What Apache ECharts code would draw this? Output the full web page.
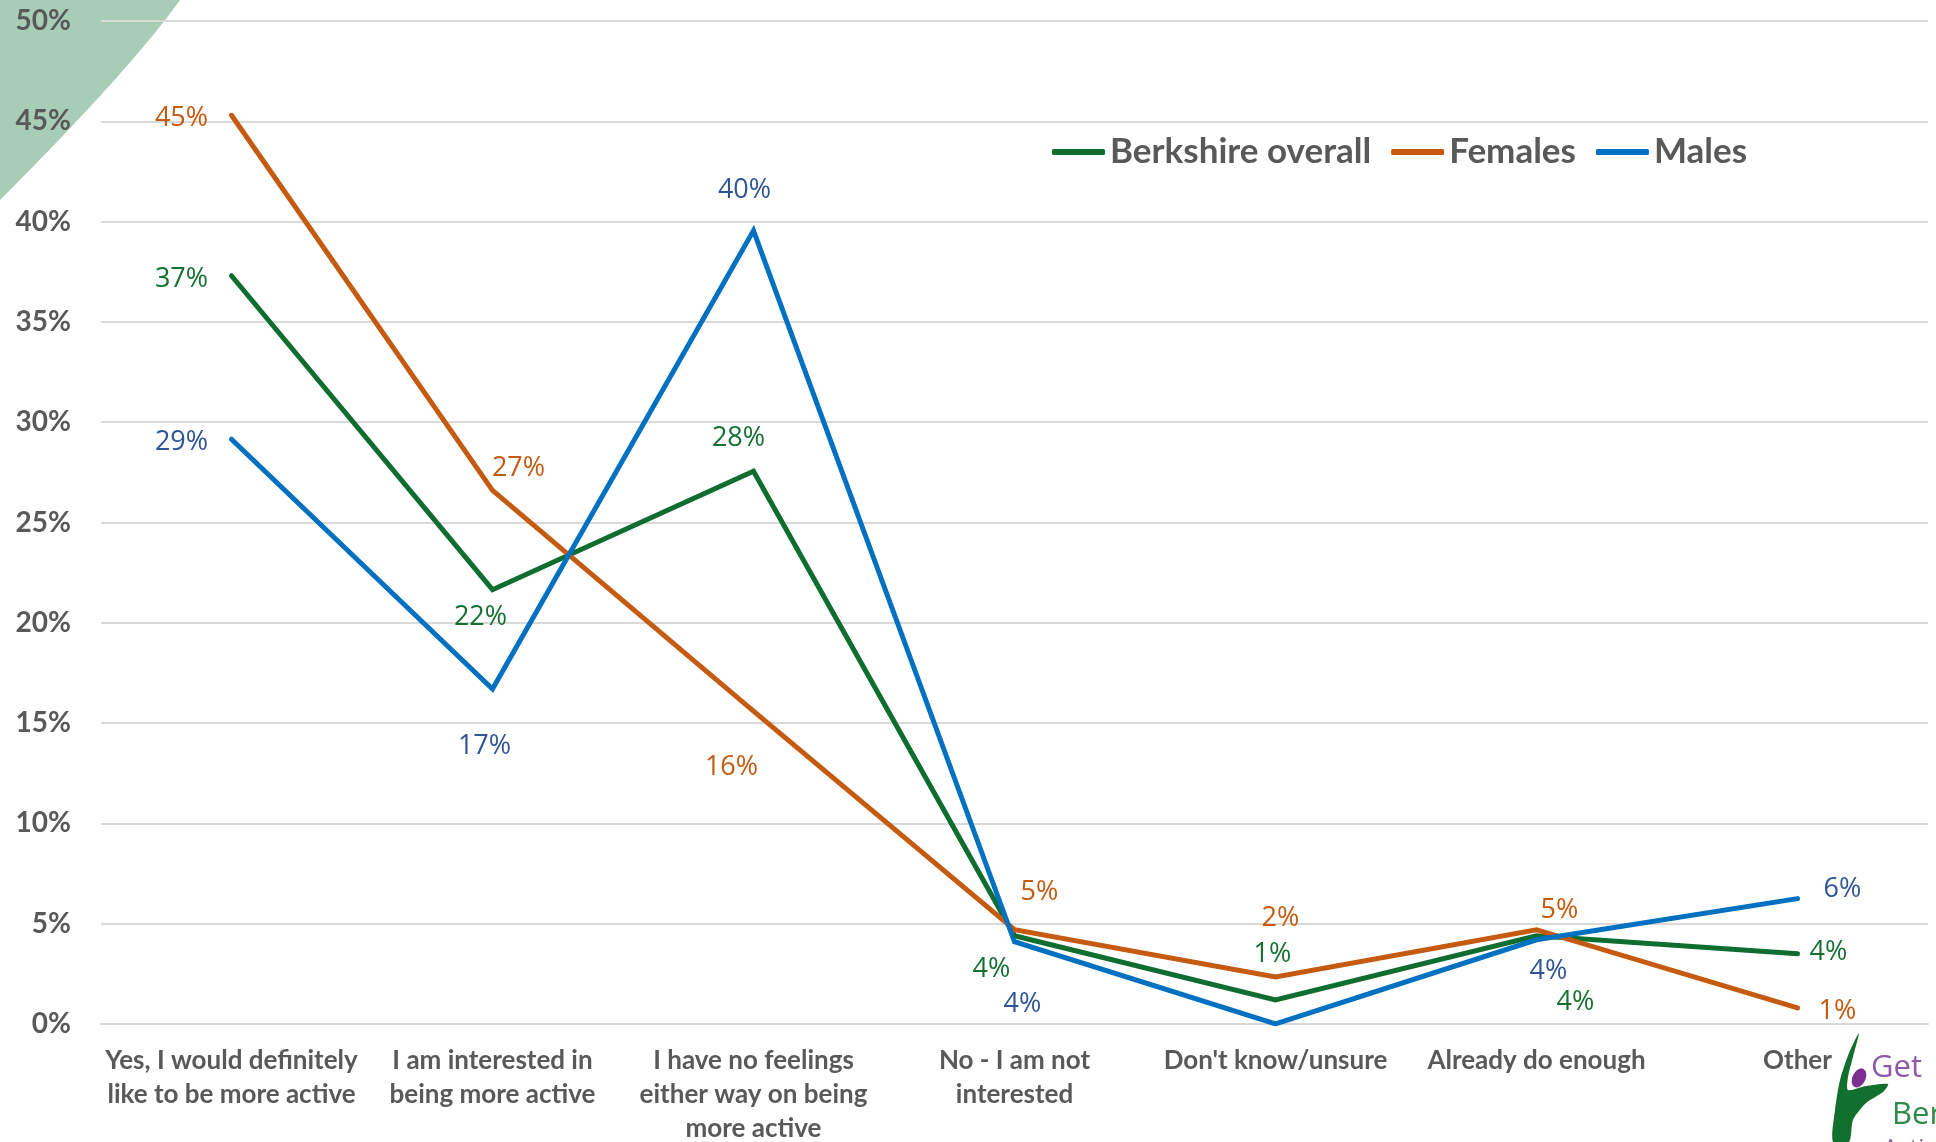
<!DOCTYPE html>
<html>
<head>
<meta charset="utf-8">
<script src="https://cdn.jsdelivr.net/npm/echarts@6/dist/echarts.min.js"></script>
<style>
  html, body { margin: 0; padding: 0; background: #ffffff; }
  #chart { width: 1936px; height: 1142px; }
</style>
</head>
<body>
<div id="chart"></div>
<script>
// Survey answers: "Would you like to be more active?"
const categories = [
  'Yes, I would definitely\nlike to be more active',
  'I am interested in\nbeing more active',
  'I have no feelings\neither way on being\nmore active',
  'No - I am not\ninterested',
  "Don't know/unsure",
  'Already do enough',
  'Other'
];

// Share of respondents (%)
const berkshireOverall = [37.3, 21.65, 27.55, 4.4, 1.2, 4.4, 3.5];
const females          = [45.3, 26.6, 15.6, 4.7, 2.35, 4.7, 0.8];
const males            = [29.15, 16.7, 39.55, 4.1, 0, 4.2, 6.25];

const seriesNames = ['Berkshire overall', 'Females', 'Males'];

// Value axis range
const yMin = 0, yMax = 50, yStep = 5;

// Where each value label sits relative to its point (null = no label)
const labelOffsets = {
  berkshire: [[-50, 4], [-12, 28], [-15, -33], [-23, 34], [-3, -46], [39, 67], [31, -1]],
  females:   [[-50, 3], [26, -22], [-22, 56], [25, -37], [5, -59], [23, -19], [40, 3]],
  males:     [[-50, 3], [-8, 57], [-9, -40], [8, 63], null, [12, 32], [45, -9]]
};

const lineColors  = ['#0f6e2f', '#c55a11', '#0070c0'];
const labelColors = ['#157032', '#c55a11', '#2f5597'];

function pointData(values, offsets) {
  return values.map((v, i) => ({
    value: v,
    label: offsets[i] ? { show: true, offset: offsets[i] } : { show: false }
  }));
}

function lineSeries(name, values, offsets, idx) {
  return {
    name: name,
    type: 'line',
    data: pointData(values, offsets),
    symbol: 'circle',
    symbolSize: 3,
    color: lineColors[idx],
    itemStyle: { color: lineColors[idx] },
    lineStyle: { color: lineColors[idx], width: 5, cap: 'round', join: 'miter' },
    label: {
      show: true,
      position: 'inside',
      align: 'center',
      verticalAlign: 'middle',
      color: labelColors[idx],
      fontFamily: 'Open Sans',
      fontSize: 27,
      formatter: p => Math.round(p.value) + '%'
    },
    emphasis: { disabled: true },
    animation: false
  };
}

// Decorative green corner (quadratic curve sampled into a polygon)
function cornerPoints() {
  const p0 = [180, 0], c = [130, 70], p1 = [0, 200];
  const pts = [[0, 0]];
  for (let k = 0; k <= 40; k++) {
    const t = k / 40, u = 1 - t;
    pts.push([u * u * p0[0] + 2 * u * t * c[0] + t * t * p1[0],
              u * u * p0[1] + 2 * u * t * c[1] + t * t * p1[1]]);
  }
  return pts;
}

const chart = echarts.init(document.getElementById('chart'), null, { renderer: 'canvas' });

chart.setOption({
  backgroundColor: '#ffffff',
  animation: false,
  grid: { left: 101, right: 8, top: 21, bottom: 118, containLabel: false, outerBoundsMode: 'none' },
  legend: {
    data: seriesNames,
    left: 1052,
    top: 131,
    padding: 0,
    itemGap: 20,
    itemWidth: 53,
    itemHeight: 6,
    icon: 'roundRect',
    textStyle: {
      fontFamily: 'Lato',
      fontWeight: 'bold',
      fontSize: 35,
      lineHeight: 42,
      color: '#595959'
    }
  },
  xAxis: {
    type: 'category',
    data: categories,
    boundaryGap: true,
    axisLine: { show: true, lineStyle: { color: '#d9d9d9', width: 2 } },
    axisTick: { show: false },
    axisLabel: {
      interval: 0,
      margin: 20,
      fontFamily: 'Lato',
      fontWeight: 'bold',
      fontSize: 26,
      lineHeight: 34,
      color: '#595959'
    }
  },
  yAxis: {
    type: 'value',
    min: yMin,
    max: yMax,
    interval: yStep,
    axisLine: { show: false },
    axisTick: { show: false },
    splitLine: { lineStyle: { color: '#d9d9d9', width: 2 } },
    axisLabel: {
      margin: 30,
      formatter: '{value}%',
      fontFamily: 'Lato',
      fontWeight: 'bold',
      fontSize: 28,
      color: '#595959'
    }
  },
  series: [
    lineSeries(seriesNames[0], berkshireOverall, labelOffsets.berkshire, 0),
    lineSeries(seriesNames[1], females, labelOffsets.females, 1),
    lineSeries(seriesNames[2], males, labelOffsets.males, 2)
  ],
  graphic: [
    {
      type: 'polygon',
      z: -10,
      shape: { points: cornerPoints() },
      style: { fill: '#a8cdb6' }
    },
    // Get Berkshire Active logo
    {
      type: 'polygon',
      z: 5,
      shape: {
        points: [
          [1859, 1033], [1853, 1057], [1848, 1077], [1848, 1090],
          [1866, 1086], [1888, 1084], [1883, 1092], [1866, 1103],
          [1853, 1120], [1849, 1142], [1833, 1142], [1835, 1110],
          [1840, 1080], [1849, 1053]
        ],
        smooth: 0.25
      },
      style: { fill: '#12702f' }
    },
    {
      type: 'ellipse',
      z: 6,
      x: 1859, y: 1078, rotation: -0.45,
      shape: { cx: 0, cy: 0, rx: 6.5, ry: 10 },
      style: { fill: '#7b2f91' }
    },
    {
      type: 'text',
      z: 6,
      x: 1871, y: 1084,
      style: {
        text: 'Get',
        fill: '#8e5aa8',
        font: '31px "Open Sans"',
        verticalAlign: 'bottom'
      }
    },
    {
      type: 'text',
      z: 6,
      x: 1892, y: 1131,
      style: {
        text: 'Berkshire',
        fill: '#2e8b4a',
        font: '31px "Open Sans"',
        verticalAlign: 'bottom'
      }
    },
    {
      type: 'text',
      z: 6,
      x: 1883, y: 1137,
      style: {
        text: 'Active',
        fill: '#8e5aa8',
        font: '24px "Open Sans"',
        verticalAlign: 'top'
      }
    }
  ]
});
</script>
</body>
</html>
